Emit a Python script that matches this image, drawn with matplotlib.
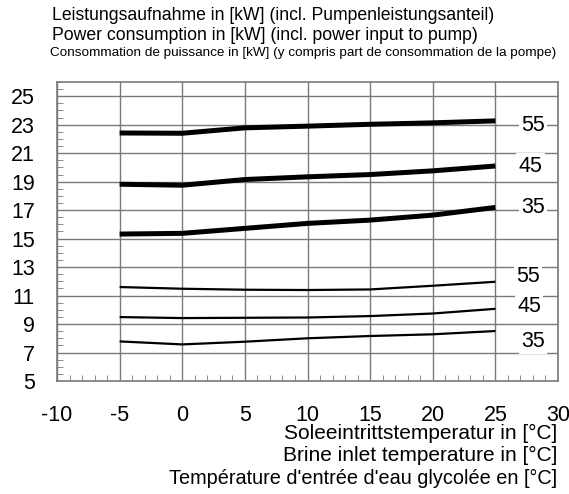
import matplotlib
matplotlib.use("Agg")
import matplotlib.pyplot as plt
from matplotlib.ticker import MultipleLocator

plt.rcParams['font.family'] = ['Liberation Sans', 'DejaVu Sans']
plt.rcParams['axes.unicode_minus'] = False

brine_temp = [-5, 0, 5, 10, 15, 20, 25]
flow_temps = ["55", "45", "35"]

# thick curves (upper group)
upper_55 = [22.42, 22.40, 22.78, 22.90, 23.03, 23.13, 23.27]
upper_45 = [18.82, 18.75, 19.15, 19.34, 19.50, 19.76, 20.10]
upper_35 = [15.32, 15.37, 15.72, 16.07, 16.30, 16.65, 17.19]
# thin curves (lower group)
lower_55 = [11.60, 11.48, 11.41, 11.39, 11.43, 11.69, 11.97]
lower_45 = [9.49, 9.42, 9.44, 9.46, 9.56, 9.74, 10.07]
lower_35 = [7.78, 7.57, 7.76, 8.00, 8.16, 8.28, 8.51]

x_ticks = [-10, -5, 0, 5, 10, 15, 20, 25, 30]
y_ticks = [5, 7, 9, 11, 13, 15, 17, 19, 21, 23, 25]

title_lines = ["Leistungsaufnahme in [kW] (incl. Pumpenleistungsanteil)",
               "Power consumption in [kW] (incl. power input to pump)",
               "Consommation de puissance in [kW] (y compris part de consommation de la pompe)"]
xlabel_lines = ["Soleeintrittstemperatur in [°C]",
                "Brine inlet temperature in [°C]",
                "Température d'entrée d'eau glycolée en [°C]"]

fig = plt.figure(figsize=(5.69, 4.94), dpi=100)
ax = fig.add_axes([57/569, 1-381/494, (558-57)/569, (381-82)/494])

ax.set_xlim(-10, 30)
ax.set_ylim(5, 26)
ax.set_xticks(x_ticks)
ax.set_yticks(y_ticks)
ax.xaxis.set_minor_locator(MultipleLocator(1))
ax.yaxis.set_minor_locator(MultipleLocator(0.5))
ax.grid(True, which='major', color='#7a7a7a', lw=1.0)
ax.set_axisbelow(True)
for s in ax.spines.values():
    s.set_color('#7a7a7a')
    s.set_linewidth(1.2)
ax.tick_params(which='major', length=0, labelsize=15.5)
ax.tick_params(axis='y', pad=16)
ax.tick_params(axis='x', pad=17)
ax.tick_params(which='minor', direction='in', length=4, color='#7a7a7a')

for ys in [upper_55, upper_45, upper_35]:
    ax.plot(brine_temp, ys, color='black', lw=3.6, solid_capstyle='butt', zorder=3)
for ys in [lower_55, lower_45, lower_35]:
    ax.plot(brine_temp, ys, color='black', lw=1.6, solid_capstyle='butt', zorder=3)

upper_label_pos = [(28.0, 22.96), (27.8, 20.1), (28.0, 17.16)]
lower_label_pos = [(27.6, 12.32), (27.7, 10.2), (28.0, 7.76)]
for name, (lx, ly) in zip(flow_temps, upper_label_pos):
    ax.text(lx, ly, name, fontsize=15.5, ha='center', va='center', zorder=4,
            bbox=dict(facecolor='white', edgecolor='none', pad=1.5))
for name, (lx, ly) in zip(flow_temps, lower_label_pos):
    ax.text(lx, ly, name, fontsize=15.5, ha='center', va='center', zorder=4,
            bbox=dict(facecolor='white', edgecolor='none', pad=1.5))

fig.text(52/569, 1-15/494, title_lines[0], fontsize=12.7, va='center', ha='left')
fig.text(52/569, 1-35/494, title_lines[1], fontsize=12.7, va='center', ha='left')
fig.text(50/569, 1-53/494, title_lines[2], fontsize=9.7, va='center', ha='left')

xlabel_sizes = [15.0, 15.0, 14.3]
for i, line in enumerate(xlabel_lines):
    fig.text(557/569, 1-(433+22.5*i)/494, line, fontsize=xlabel_sizes[i],
             ha='right', va='center')

fig.savefig('out.png', dpi=100)
